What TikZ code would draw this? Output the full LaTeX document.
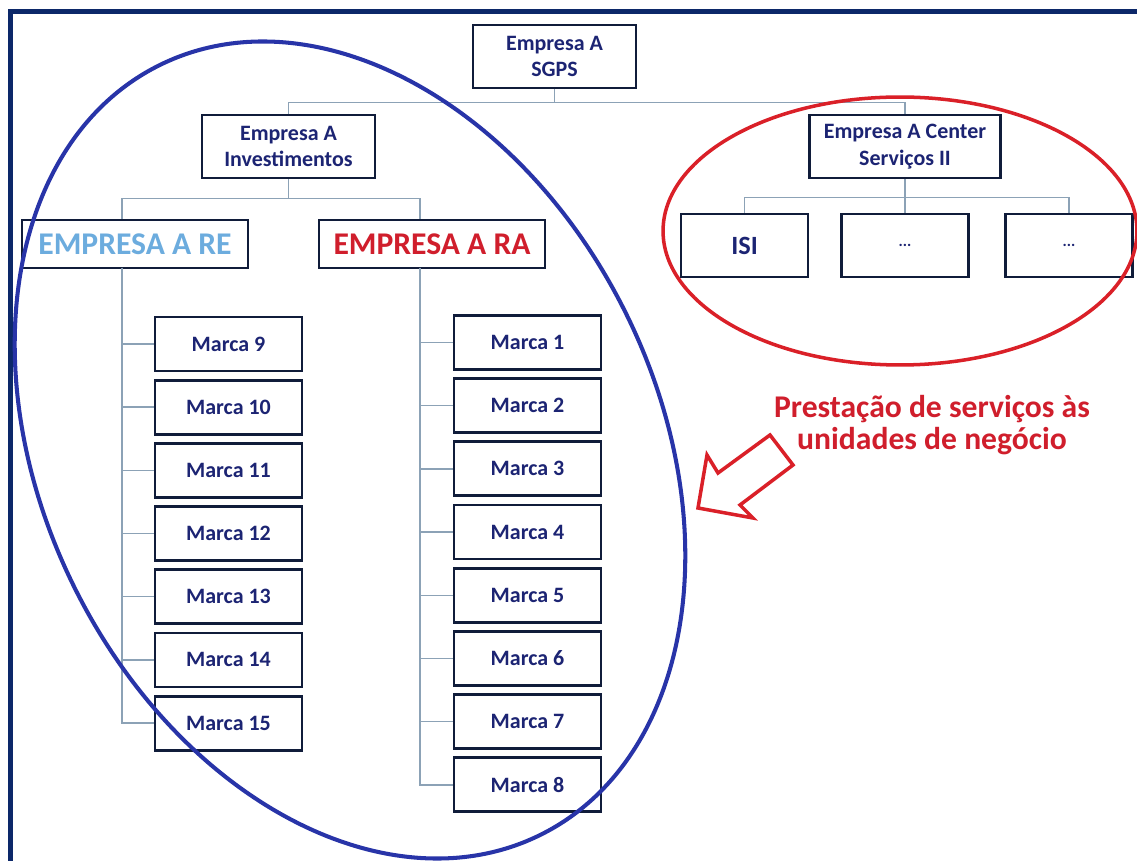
\documentclass[tikz,border=0pt]{standalone}
\usepackage{fontspec}
\setmainfont{Carlito}
\usetikzlibrary{positioning}
\definecolor{navy}{RGB}{28,36,115}
\definecolor{boxline}{RGB}{16,28,58}
\definecolor{linkgray}{RGB}{140,162,182}
\definecolor{ringblue}{RGB}{40,52,168}
\definecolor{ringred}{RGB}{218,32,40}
\definecolor{frameblue}{RGB}{12,40,105}
\definecolor{reblue}{RGB}{108,172,222}
\definecolor{rared}{RGB}{208,30,44}

\begin{document}
\begin{tikzpicture}[x=0.02cm,y=-0.02cm,node distance=1.264cm,
        main node/.style={rectangle,draw=boxline,fill=white,line width=1.6pt,text=navy,
          align=center,inner sep=0pt,font=\bfseries\fontsize{12.5}{15}\selectfont},
        brand/.style={main node,minimum width=2.94cm,minimum height=1.08cm},
        sub node/.style={main node,minimum width=2.54cm,minimum height=1.26cm},
        firm/.style={main node,minimum width=4.52cm,minimum height=0.96cm,
          font=\bfseries\fontsize{18}{20}\selectfont},
        link/.style={draw=linkgray,line width=0.8pt}]

    \useasboundingbox[fill=white] (0,0) rectangle (1137,861);
    \draw[frameblue,line width=2.7pt] (10.5,861) -- (10.5,11.5) -- (1137,11.5);

    \node[main node,minimum width=3.26cm,minimum height=1.26cm] (1) at (554.5,56.5) {Empresa A\\SGPS};
    \node[main node,minimum width=3.46cm,minimum height=1.26cm] (2) at (288.5,146.5) {Empresa A\\Investimentos};
    \node[main node,minimum width=3.82cm,minimum height=1.26cm] (3) at (905,146.5) {Empresa A Center\\Serviços II};
    \node[firm,text=reblue] (4) at (135,244) {EMPRESA A RE};
    \node[firm,text=rared] (5) at (432,244) {EMPRESA A RA};
    \node[sub node,font=\bfseries\fontsize{15}{18}\selectfont] (6) at (744.5,245.5) {ISI};
    \node[sub node,font=\bfseries\fontsize{9}{10}\selectfont] (7) at (905,245.5) {...};
    \node[sub node,font=\bfseries\fontsize{9}{10}\selectfont] (8) at (1069,245.5) {...};

    \node[brand] (m9) at (228.5,344) {Marca 9};
    \node[brand] (m10) [below of=m9] {Marca 10};
    \node[brand] (m11) [below of=m10] {Marca 11};
    \node[brand] (m12) [below of=m11] {Marca 12};
    \node[brand] (m13) [below of=m12] {Marca 13};
    \node[brand] (m14) [below of=m13] {Marca 14};
    \node[brand] (m15) [below of=m14] {Marca 15};

    \node[brand] (m1) at (527.5,342.5) {Marca 1};
    \node[brand] (m2) [below of=m1] {Marca 2};
    \node[brand] (m3) [below of=m2] {Marca 3};
    \node[brand] (m4) [below of=m3] {Marca 4};
    \node[brand] (m5) [below of=m4] {Marca 5};
    \node[brand] (m6) [below of=m5] {Marca 6};
    \node[brand] (m7) [below of=m6] {Marca 7};
    \node[brand] (m8) [below of=m7] {Marca 8};

    \coordinate (t1) at (122,268);
    \coordinate (t2) at (420,268);

    \draw[link] (1.south) -- ++(0,13) -| (2.north);
    \draw[link] (1.south) -- ++(0,13) -| (3.north);
    \draw[link] (2.south) -- ++(0,19) -| (4.north -| t1);
    \draw[link] (2.south) -- ++(0,19) -| (5.north -| t2);
    \draw[link] (3.south) -- ++(0,18) -| (6.north);
    \draw[link] (3.south) -- ++(0,18) -| (8.north);
    \draw[link] (3.south) -- (7.north);
    \foreach \m in {m9,m10,m11,m12,m13,m14,m15}
        \draw[link] (t1) |- (\m.west);
    \foreach \m in {m1,m2,m3,m4,m5,m6,m7,m8}
        \draw[link] (t2) |- (\m.west);

    % note and arrow
    \node[text=rared,align=center,font=\bfseries\fontsize{18}{18.5}\selectfont] (note) at (932,425)
        {Prestação de serviços às\\unidades de negócio};
    \draw[ringred,line width=2pt,line join=miter] (698,508) -- (707,455) -- (718,473) -- (770,435)
        -- (793,465) -- (740,505) -- (753,518) -- cycle;

    % groups
    \draw[ringblue,line width=2.3pt,rotate around={26.3:(350,450)}] (350,450) ellipse [x radius=6.16cm,y radius=8.59cm];
    \draw[ringred,line width=2pt] (900,231) ellipse [x radius=4.74cm,y radius=2.68cm];

\end{tikzpicture}
\end{document}
